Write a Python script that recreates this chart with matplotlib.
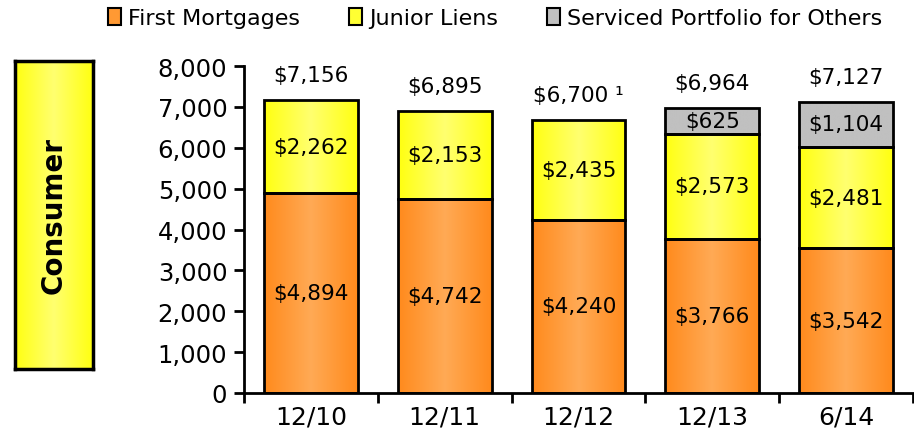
import numpy as np
import matplotlib
matplotlib.use("Agg")
import matplotlib.pyplot as plt
from matplotlib.colors import LinearSegmentedColormap
from matplotlib.patches import Patch

# data
periods = ["12/10", "12/11", "12/12", "12/13", "6/14"]
first_mortgages = [4894, 4742, 4240, 3766, 3542]
junior_liens = [2262, 2153, 2435, 2573, 2481]
serviced = [0, 0, 0, 625, 1104]
totals = [7156, 6895, 6700, 6964, 7127]
total_labels = ["$7,156", "$6,895", "$6,700 \u00b9", "$6,964", "$7,127"]

plt.rcParams['font.family'] = ['DejaVu Sans']

orange_cm = LinearSegmentedColormap.from_list("o", ["#ff8a1c", "#ffaa55", "#ff8a1c"])
yellow_cm = LinearSegmentedColormap.from_list("y", ["#ffff10", "#ffff70", "#ffff10"])
grey_cm = LinearSegmentedColormap.from_list("g", ["#c0c0c0", "#c0c0c0"])
grad = np.linspace(0, 1, 256).reshape(1, -1)

fig = plt.figure(figsize=(9.14, 4.35), dpi=100)
ax = fig.add_axes([244 / 914, 1 - 394 / 435, 669 / 914, 327 / 435])

x = np.arange(len(periods))
w = 0.7
ser = [(first_mortgages, "#ff9933", orange_cm),
       (junior_liens, "#ffff33", yellow_cm),
       (serviced, "#c0c0c0", grey_cm)]

bottom = np.zeros(len(periods))
for vals, col, cm in ser:
    vals = np.array(vals, dtype=float)
    bars = ax.bar(x, vals, w, bottom=bottom, color=col, linewidth=0, zorder=1)
    for b, v in zip(bars, vals):
        if v == 0:
            continue
        x0, y0 = b.get_x(), b.get_y()
        im = ax.imshow(grad, cmap=cm, aspect="auto", zorder=2,
                       extent=[x0, x0 + b.get_width(), y0, y0 + b.get_height()])
        im.set_clip_path(b)
        ax.text(x0 + b.get_width() / 2, y0 + v / 2, "${:,.0f}".format(v),
                ha="center", va="center", fontsize=15.5, zorder=4)
    ax.bar(x, np.where(vals > 0, vals, np.nan), w, bottom=bottom, fill=False,
           edgecolor="black", linewidth=2, zorder=3)
    bottom = bottom + vals

for i, lab in enumerate(total_labels):
    ax.annotate(lab, (x[i], bottom[i]), xytext=(0, 18), textcoords="offset points",
                ha="center", va="center", fontsize=15.5)

ax.set_xlim(-0.5, len(periods) - 0.5)
ax.set_ylim(0, 8000)
ax.set_yticks(range(0, 8001, 1000))
ax.set_yticklabels(["{:,}".format(v) for v in range(0, 8001, 1000)], fontsize=17.5)
ax.set_xticks(x)
ax.set_xticklabels(periods, fontsize=18)
ax.set_xticks(np.arange(-0.5, len(periods)), minor=True)
ax.tick_params(axis="x", which="major", length=0, pad=8)
ax.tick_params(axis="x", which="minor", length=7, width=2, direction="out")
ax.tick_params(axis="y", length=7, width=2, direction="out", pad=5)
for s in ["top", "right"]:
    ax.spines[s].set_visible(False)
for s in ["left", "bottom"]:
    ax.spines[s].set_linewidth(2)

# side box
bx = fig.add_axes([15 / 914, 1 - 370 / 435, 78 / 914, 308 / 435])
bx.imshow(grad, cmap=yellow_cm, aspect="auto", extent=[0, 1, 0, 1])
bx.set_xticks([])
bx.set_yticks([])
for s in bx.spines.values():
    s.set_linewidth(2.5)
bx.text(0.5, 0.5, "Consumer", rotation=90, ha="center", va="center",
        fontsize=20, fontweight="bold", transform=bx.transAxes)

handles = [Patch(facecolor="#ff9933", edgecolor="black", linewidth=1.5),
           Patch(facecolor="#ffff33", edgecolor="black", linewidth=1.5),
           Patch(facecolor="#c0c0c0", edgecolor="black", linewidth=1.5)]
fig.legend(handles, ["First Mortgages", "Junior Liens", "Serviced Portfolio for Others"],
           loc="center", bbox_to_anchor=(495 / 914, 1 - 19 / 435), ncol=3, frameon=False,
           handlelength=0.6, handleheight=0.8, handletextpad=0.3, columnspacing=2.2,
           prop={"family": ["DejaVu Sans"], "size": 16})

fig.savefig("out.png", dpi=100)
